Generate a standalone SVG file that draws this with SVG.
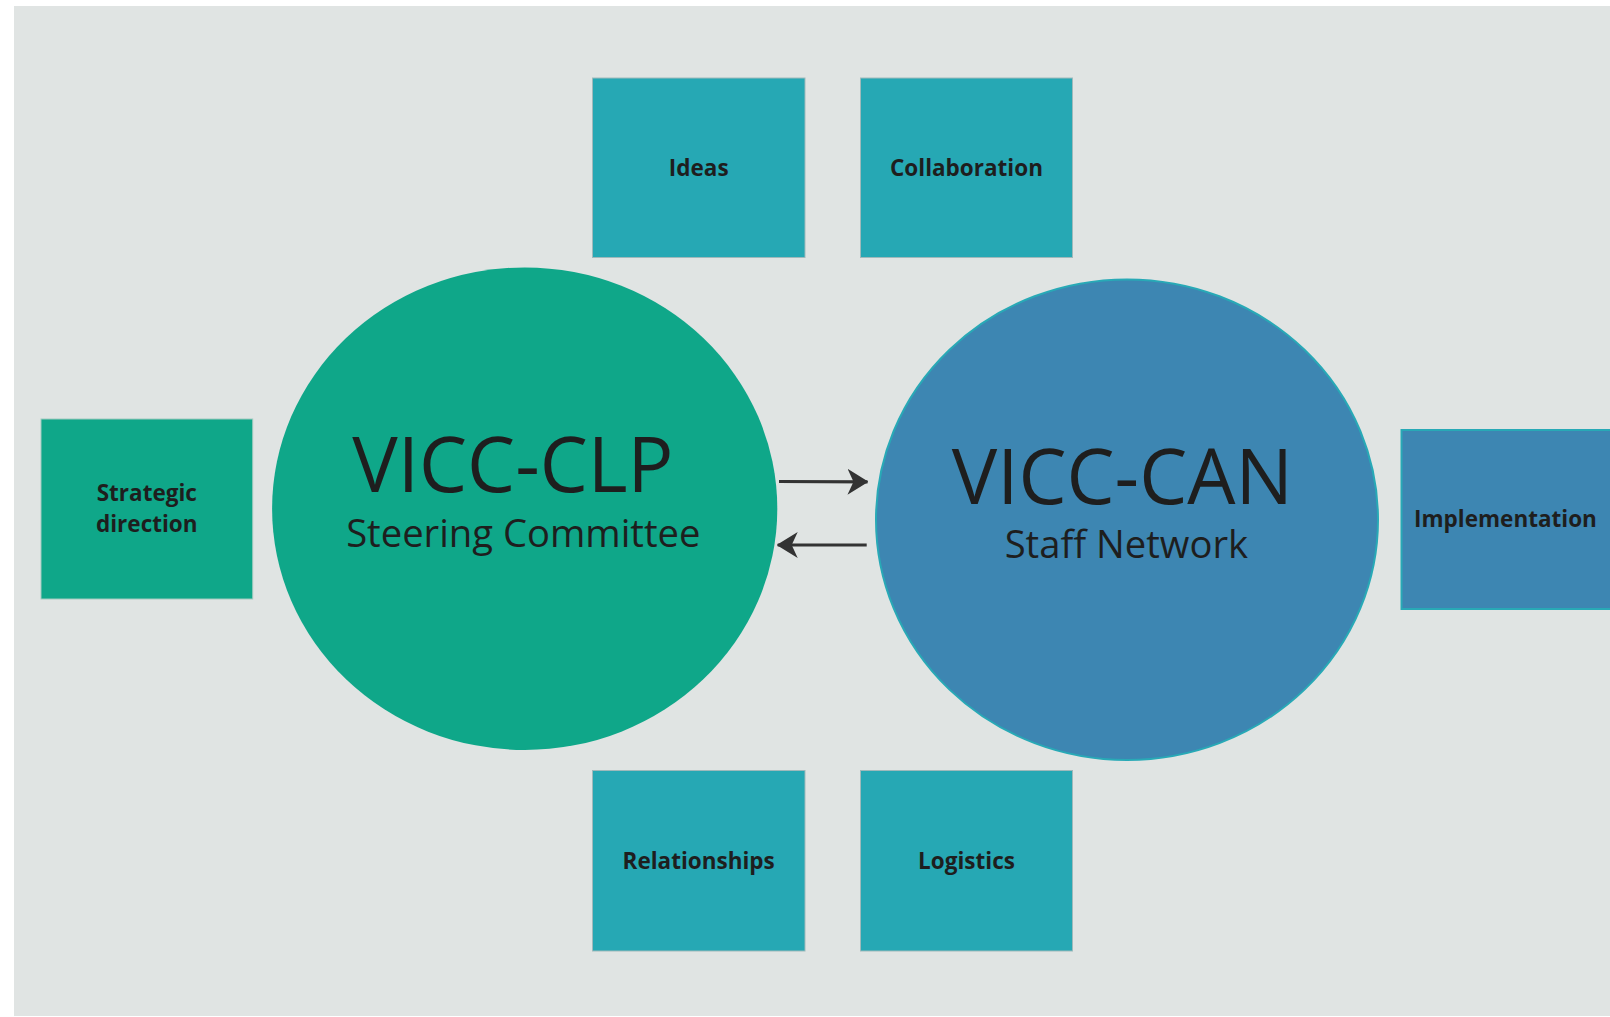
<svg xmlns="http://www.w3.org/2000/svg" width="1610" height="1017" viewBox="0 0 1610 1017">
  <defs>
    <style>
      .box-teal { fill: #26a8b4; stroke: #9fb9bb; stroke-width: 1; }
      .box-green { fill: #0fa789; stroke: #9fcabf; stroke-width: 1; }
      .box-blue { fill: #3d86b2; stroke: #28a9b6; stroke-width: 2; }
      .lbl { font-family: "Open Sans", "Noto Sans", "Liberation Sans", sans-serif; font-weight: 700; font-size: 22.5px; fill: #1e1e1e; text-anchor: middle; }
      .big { font-family: "Open Sans", "Noto Sans", "Liberation Sans", sans-serif; font-weight: 400; font-size: 76.3px; fill: #1e1e1e; text-anchor: middle; }
      .sub { font-family: "Open Sans", "Noto Sans", "Liberation Sans", sans-serif; font-weight: 400; font-size: 38.2px; fill: #1e1e1e; text-anchor: middle; }
      .conn { stroke: #333333; stroke-width: 3.2; fill: none; }
    </style>
    <marker id="arrow" viewBox="0 0 21 26" refX="20" refY="13" markerUnits="userSpaceOnUse" markerWidth="21" markerHeight="26" orient="auto">
      <path d="M0,0 L21,13 L0,26 L6,13 Z" fill="#333333"/>
    </marker>
  </defs>
  <rect x="0" y="0" width="1610" height="1017" fill="#ffffff"/>
  <rect x="14" y="6" width="1596" height="1010" fill="#e0e4e3"/>

  <g id="node-ideas">
    <rect class="box-teal" x="592.5" y="78" width="212.5" height="179.5"/>
    <text class="lbl" x="698.7" y="176">Ideas</text>
  </g>
  <g id="node-collaboration">
    <rect class="box-teal" x="860.5" y="78" width="212" height="179.5"/>
    <text class="lbl" x="966.5" y="176">Collaboration</text>
  </g>
  <g id="node-relationships">
    <rect class="box-teal" x="592.5" y="770.5" width="212.5" height="180.5"/>
    <text class="lbl" x="698.7" y="869">Relationships</text>
  </g>
  <g id="node-logistics">
    <rect class="box-teal" x="860.5" y="770.5" width="212" height="180.5"/>
    <text class="lbl" x="966.5" y="869">Logistics</text>
  </g>
  <g id="node-strategic">
    <rect class="box-green" x="41" y="419" width="211.7" height="180"/>
    <text class="lbl" x="146.8" y="501">Strategic</text>
    <text class="lbl" x="146.8" y="532">direction</text>
  </g>
  <g id="node-implementation">
    <rect class="box-blue" x="1401.5" y="430" width="215" height="179"/>
    <text class="lbl" x="1505.5" y="527">Implementation</text>
  </g>
  <g id="node-clp">
    <ellipse cx="524.7" cy="508.7" rx="252.6" ry="241.3" fill="#0fa789"/>
    <text class="big" x="512.9" y="491.5">VICC-CLP</text>
    <text class="sub" x="523.3" y="546.5">Steering Committee</text>
  </g>
  <g id="node-can">
    <ellipse cx="1127" cy="519.7" rx="251" ry="240.3" fill="#3d86b2" stroke="#28a9b6" stroke-width="2"/>
    <text class="big" x="1122.3" y="504">VICC-CAN</text>
    <text class="sub" x="1126.4" y="558">Staff Network</text>
  </g>

  <g id="connectors">
    <line class="conn" x1="779" y1="481.5" x2="867.5" y2="481.8" marker-end="url(#arrow)"/>
    <line class="conn" x1="866.7" y1="545" x2="777.7" y2="545" marker-end="url(#arrow)"/>
  </g>
</svg>
